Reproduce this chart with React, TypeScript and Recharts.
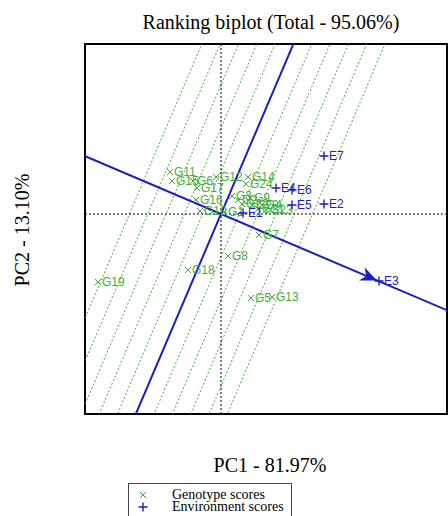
import React from "react";
import {
  ScatterChart,
  Scatter,
  XAxis,
  YAxis,
  ReferenceLine,
  ReferenceArea,
} from "recharts";

const genotypeNames = [
  "G1", "G2", "G3", "G4", "G5", "G6", "G7", "G8", "G9", "G10", "G11", "G12",
  "G13", "G14", "G15", "G16", "G17", "G18", "G19", "G20", "G21", "G22", "G23", "G24",
];
const genotypePC1 = [
  0.06, 0.34, 0.22, 0.82, 0.6, -0.56, 0.76, 0.14, 0.58, -0.42, -1.02, -0.1,
  1.02, 0.54, -0.98, -0.5, -0.48, -0.66, -2.46, 0.62, 0.74, 0.42, 0.9, 0.5,
];
const genotypePC2 = [
  0.04, 0.28, 0.36, 0.18, -1.68, 0.66, -0.42, -0.84, 0.32, 0.06, 0.84, 0.74,
  -1.66, 0.74, 0.66, 0.28, 0.52, -1.12, -1.36, 0.18, 0.1, 0.2, 0.08, 0.6,
];

const environmentNames = ["E1", "E2", "E3", "E4", "E5", "E6", "E7"];
const environmentPC1 = [0.44, 2.06, 3.16, 1.1, 1.42, 1.42, 2.06];
const environmentPC2 = [0.02, 0.2, -1.34, 0.52, 0.18, 0.48, 1.16];

// average environment axis arrow tip and spacing of the parallel ordinate lines
const aeaTip = { x: 3.1, y: -1.32 };
const ordinateStep = 0.337;
const ordinateOffsets = [-5, -4, -3, -2, -1, 0, 1, 2, 3, 4, 5];

const xDomain: [number, number] = [-2.72, 4.52];
const yDomain: [number, number] = [-4.0, 3.4];

const GREEN = "#3fae3f";
const BLUE = "#1c1cc4";
const LABEL_FONT = "'Liberation Sans', Arial, sans-serif";
const SERIF = "'Liberation Serif', 'Times New Roman', serif";

const genotypes = genotypeNames.map((name, i) => ({
  name,
  x: genotypePC1[i],
  y: genotypePC2[i],
}));
const environments = environmentNames.map((name, i) => ({
  name,
  x: environmentPC1[i],
  y: environmentPC2[i],
}));

const len = Math.hypot(aeaTip.x, aeaTip.y);
const u = { x: aeaTip.x / len, y: aeaTip.y / len };
const v = { x: -u.y, y: u.x };
const far = 20;

const GenotypeShape = (props: any) => {
  const { cx, cy, payload } = props;
  const s = 3;
  return (
    <g>
      <path
        d={`M${cx - s},${cy - s}L${cx + s},${cy + s}M${cx - s},${cy + s}L${cx + s},${cy - s}`}
        stroke={GREEN}
        strokeWidth={1}
      />
      <text x={cx + 4} y={cy} dy="0.36em" fontSize={12} fill={GREEN} fontFamily={LABEL_FONT}>
        {payload.name}
      </text>
    </g>
  );
};

const EnvironmentShape = (props: any) => {
  const { cx, cy, payload } = props;
  const s = 4.5;
  return (
    <g>
      <path
        d={`M${cx - s},${cy}H${cx + s}M${cx},${cy - s}V${cy + s}`}
        stroke={BLUE}
        strokeWidth={1.4}
      />
      <text x={cx + 5} y={cy} dy="0.36em" fontSize={12} fill={BLUE} fontFamily={LABEL_FONT}>
        {payload.name}
      </text>
    </g>
  );
};

const ArrowShape = (props: any) => {
  const { cx, cy } = props;
  const angle = (Math.atan2(-aeaTip.y, aeaTip.x) * 180) / Math.PI;
  return (
    <path
      d="M0,0L-14,-6L-10,0L-14,6Z"
      fill={BLUE}
      stroke={BLUE}
      strokeWidth={1}
      transform={`translate(${cx},${cy}) rotate(${angle})`}
    />
  );
};

export default function App() {
  return (
    <div style={{ position: "absolute", left: 0, top: 0, width: 448, height: 516, background: "#fff" }}>
      <ScatterChart width={448} height={516} margin={{ top: 44, right: 1, bottom: 102, left: 85 }}>
        <XAxis type="number" dataKey="x" domain={xDomain} hide allowDataOverflow />
        <YAxis type="number" dataKey="y" domain={yDomain} hide allowDataOverflow />
        {ordinateOffsets.map((k) => {
          const c = { x: u.x * k * ordinateStep, y: u.y * k * ordinateStep };
          return (
            <ReferenceLine
              key={k}
              segment={[
                { x: c.x - v.x * far, y: c.y - v.y * far },
                { x: c.x + v.x * far, y: c.y + v.y * far },
              ]}
              stroke={GREEN}
              strokeDasharray="2 2"
              strokeWidth={1}
              ifOverflow="hidden"
            />
          );
        })}
        <ReferenceLine x={0} stroke="#000" strokeDasharray="2 2" strokeWidth={1} />
        <ReferenceLine y={0} stroke="#000" strokeDasharray="2 2" strokeWidth={1} />
        <ReferenceLine
          segment={[
            { x: -u.x * far, y: -u.y * far },
            { x: u.x * far, y: u.y * far },
          ]}
          stroke={BLUE}
          strokeWidth={2}
          ifOverflow="hidden"
        />
        <ReferenceLine
          segment={[
            { x: -v.x * far, y: -v.y * far },
            { x: v.x * far, y: v.y * far },
          ]}
          stroke={BLUE}
          strokeWidth={2}
          ifOverflow="hidden"
        />
        <Scatter data={[aeaTip]} shape={ArrowShape} isAnimationActive={false} />
        <Scatter data={genotypes} shape={GenotypeShape} isAnimationActive={false} />
        <Scatter data={environments} shape={EnvironmentShape} isAnimationActive={false} />
        <ReferenceArea
          x1={xDomain[0]}
          x2={xDomain[1]}
          y1={yDomain[0]}
          y2={yDomain[1]}
          fill="none"
          fillOpacity={0}
          stroke="#000"
          strokeWidth={2}
        />
      </ScatterChart>
      <svg
        width={448}
        height={516}
        style={{ position: "absolute", left: 0, top: 0, pointerEvents: "none" }}
      >
        <text x={271} y={29} textAnchor="middle" fontSize={20} fontFamily={SERIF} fill="#000">
          Ranking biplot (Total - 95.06%)
        </text>
        <text x={270} y={472} textAnchor="middle" fontSize={20} fontFamily={SERIF} fill="#000">
          PC1 - 81.97%
        </text>
        <text
          x={0}
          y={0}
          textAnchor="middle"
          fontSize={20}
          fontFamily={SERIF}
          fill="#000"
          transform="translate(29,230) rotate(-90)"
        >
          PC2 - 13.10%
        </text>
        <rect x={128.5} y={483.5} width={163} height={40} fill="none" stroke="#444" strokeWidth={1} />
        <path d="M140,492L146,498M140,498L146,492" stroke={GREEN} strokeWidth={1} />
        <path d="M138.5,507H147.5M143,502.5V511.5" stroke={BLUE} strokeWidth={1.4} />
        <text x={172} y={499} fontSize={14} fontFamily={SERIF} fill="#000">
          Genotype scores
        </text>
        <text x={172} y={511} fontSize={14} fontFamily={SERIF} fill="#000">
          Environment scores
        </text>
      </svg>
    </div>
  );
}
